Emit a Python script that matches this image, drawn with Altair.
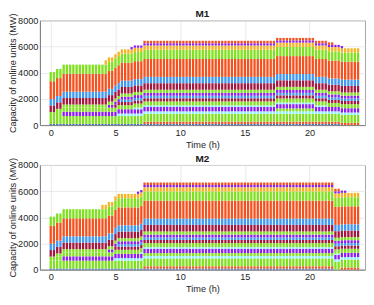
import altair as alt
import pandas as pd

# time grid: 15-minute steps over one day (hours)
STEP_H = 0.25
N_STEPS = 96
TIMES = [round(k * STEP_H, 2) for k in range(N_STEPS)]

# units, stacked bottom -> top
UNITS = ["U1", "U2", "U3", "U4", "U5", "U6", "U7", "U8", "U9", "U10",
         "U11", "U12", "U13", "U14", "U15", "U16", "U17", "U18", "U19"]
CAPACITY_MW = [90, 170, 600, 190, 220, 330, 120, 310, 240, 190,
               220, 240, 500, 480, 1370, 700, 330, 170, 190]
GREEN, ORANGE, BLUE, DRED = "#7FE01E", "#F4511E", "#4098F0", "#A3173F"
PURPLE, CYAN, YELLOW, STEEL = "#8C1FF2", "#8CF2FF", "#F5B324", "#3F6FBF"
UNIT_COLORS = [STEEL, ORANGE, GREEN, CYAN, GREEN, PURPLE, CYAN, GREEN, DRED, BLUE,
               PURPLE, GREEN, DRED, BLUE, ORANGE, GREEN, YELLOW, PURPLE, ORANGE]

# online periods (start hour, end hour, inclusive)
M1_ON = {
    "U1": [(0, 22.25)], "U2": [(7.25, 23.75)], "U3": [(0, 23.75)],
    "U4": [(5.25, 23.75)], "U5": [(17.5, 20.25)], "U6": [(1.0, 23.75)],
    "U7": [(6.5, 21.25)], "U8": [(0, 23.75)], "U9": [(5.0, 23.75)],
    "U10": [(5.5, 23.75)], "U11": [(4.5, 23.75)], "U12": [(0.5, 23.75)],
    "U13": [(0, 23.75)], "U14": [(0, 23.75)], "U15": [(0, 23.75)],
    "U16": [(0, 23.75)], "U17": [(4.25, 23.75)], "U18": [(6.25, 22.5)],
    "U19": [(7.25, 21.75)],
}
M2_ON = {
    "U1": [(0, 21.75)], "U2": [(7.25, 21.75), (22.5, 23.75)], "U3": [(0, 23.75)],
    "U4": [(5.0, 23.75)], "U5": [(7.25, 21.75)], "U6": [(1.0, 23.75)],
    "U7": [(7.0, 22.25)], "U8": [(0, 23.75)], "U9": [(5.0, 23.75)],
    "U10": [(5.25, 23.75)], "U11": [(4.5, 23.75)], "U12": [(0.5, 23.75)],
    "U13": [(0, 23.75)], "U14": [(0, 23.75)], "U15": [(0, 23.75)],
    "U16": [(0, 23.75)], "U17": [(4.0, 23.75)], "U18": [(6.75, 22.75)],
    "U19": [(7.25, 22.25)],
}

X_TICKS = [0, 5, 10, 15, 20]
Y_TICKS = [0, 2000, 4000, 6000, 8000]

rows = []
for panel, schedule in (("M1", M1_ON), ("M2", M2_ON)):
    for t in TIMES:
        for i, (u, cap) in enumerate(zip(UNITS, CAPACITY_MW)):
            if any(a <= t <= b for a, b in schedule[u]):
                rows.append({"panel": panel, "t": t, "unit": u, "idx": i, "mw": cap})
df = pd.DataFrame(rows)

FONT = "Liberation Sans"


def panel_chart(name):
    return (
        alt.Chart(df)
        .transform_filter(alt.datum.panel == name)
        .mark_bar(size=2.3)
        .encode(
            x=alt.X("t:Q",
                    scale=alt.Scale(domain=[-0.45, 23.9], nice=False, zero=False),
                    axis=alt.Axis(values=X_TICKS, title="Time (h)", labelPadding=3,
                                  titlePadding=3, format="d")),
            y=alt.Y("mw:Q", stack="zero",
                    scale=alt.Scale(domain=[0, 8000], nice=False),
                    axis=alt.Axis(values=Y_TICKS, title="Capacity of online units (MW)",
                                  labelPadding=2, titlePadding=0, format="d")),
            color=alt.Color("unit:N", scale=alt.Scale(domain=UNITS, range=UNIT_COLORS),
                            legend=None),
            order=alt.Order("idx:Q"),
        )
        .properties(width=326, height=105,
                    title=alt.TitleParams(name, fontSize=10, fontWeight="bold",
                                          offset=-6.5, font=FONT, color="#1a1a1a",
                                          frame="group"))
    )


chart = (
    alt.vconcat(panel_chart("M1"), panel_chart("M2"), spacing=40, bounds="flush")
    .configure_view(stroke="#a6a6a6", strokeWidth=1)
    .configure_axis(
        labelFont=FONT, titleFont=FONT, labelFontSize=9.2, titleFontSize=9.2,
        labelColor="#262626", titleColor="#262626", titleFontWeight="normal",
        domainColor="#808080", tickSize=0, gridColor="#e3e3e3", gridWidth=0.8,
    )
    .properties(padding={"left": 0, "right": 0, "top": 0, "bottom": 0})
)

chart.save("out.html", embed_options={"renderer": "svg", "actions": False})
